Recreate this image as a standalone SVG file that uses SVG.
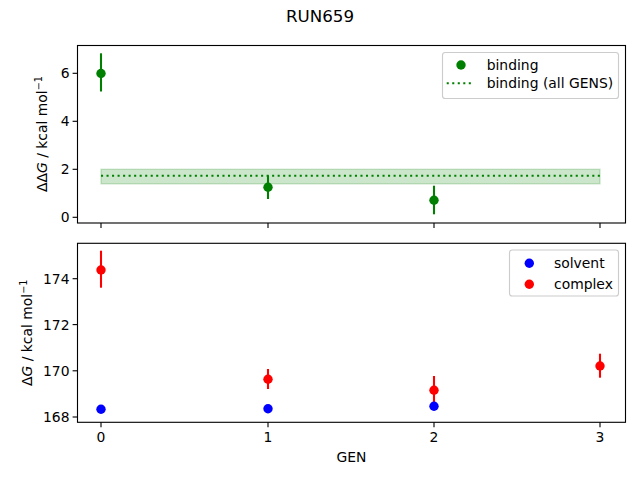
<svg xmlns="http://www.w3.org/2000/svg" width="640" height="480" viewBox="0 0 640 480">
<style>
text{font-family:"DejaVu Sans","Liberation Sans",sans-serif;font-size:13.9px;fill:#000}
.t{text-anchor:end}
.c{text-anchor:middle}
.ax{fill:none;stroke:#000;stroke-width:1.11}
.tk{stroke:#000;stroke-width:1.11}
.eg{stroke:#008000;stroke-width:2.08}
.er{stroke:#ff0000;stroke-width:2.08}
.lg{fill:#fff;fill-opacity:0.8;stroke:#ccc;stroke-width:1.11}
circle{r:4.7px}
</style>
<rect width="640" height="480" fill="#fff"/>
<text x="320" y="22" class="c" style="font-size:16.7px">RUN659</text>

<g id="top-axes">
<rect x="77.5" y="45.5" width="548" height="177.5" fill="#fff"/>
<rect x="101" y="169.3" width="499" height="14.5" fill="#008000" fill-opacity="0.2" stroke="#008000" stroke-opacity="0.2" stroke-width="1.39"/>
<line x1="101" y1="175.7" x2="600" y2="175.7" stroke="#008000" stroke-width="2.08" stroke-dasharray="2.08 3.44"/>
<line class="eg" x1="101" y1="53.3" x2="101" y2="91.5"/>
<line class="eg" x1="268" y1="175.3" x2="268" y2="199"/>
<line class="eg" x1="434" y1="185.7" x2="434" y2="214.3"/>
<circle cx="101" cy="73.5" r="4.7" fill="#008000"/>
<circle cx="268" cy="187.3" r="4.7" fill="#008000"/>
<circle cx="434" cy="200.3" r="4.7" fill="#008000"/>
<rect class="ax" x="77.5" y="45.5" width="548" height="177.5"/>
<g class="tk">
<line x1="72.6" y1="217.3" x2="77.5" y2="217.3"/>
<line x1="72.6" y1="169.3" x2="77.5" y2="169.3"/>
<line x1="72.6" y1="121.3" x2="77.5" y2="121.3"/>
<line x1="72.6" y1="73.3" x2="77.5" y2="73.3"/>
<line x1="101" y1="223" x2="101" y2="227.9"/>
<line x1="268" y1="223" x2="268" y2="227.9"/>
<line x1="434" y1="223" x2="434" y2="227.9"/>
<line x1="600" y1="223" x2="600" y2="227.9"/>
</g>
<text x="69.5" y="222.3" class="t">0</text>
<text x="69.5" y="174.3" class="t">2</text>
<text x="69.5" y="126.3" class="t">4</text>
<text x="69.5" y="78.3" class="t">6</text>
<text transform="translate(46.5,134) rotate(-90)" class="c">ΔΔ<tspan font-style="italic">G</tspan> / kcal mol<tspan dy="-5" style="font-size:9.7px">−1</tspan></text>
</g>

<g id="top-legend">
<rect class="lg" x="442.5" y="52.5" width="176" height="46" rx="2.8"/>
<circle cx="461" cy="65" r="4.7" fill="#008000"/>
<line x1="446.7" y1="83.3" x2="474.3" y2="83.3" stroke="#008000" stroke-width="2.08" stroke-dasharray="2.08 3.44"/>
<text x="486.7" y="70">binding</text>
<text x="486.7" y="88.3">binding (all GENS)</text>
</g>

<g id="bottom-axes">
<rect x="77.5" y="243.3" width="548" height="179" fill="#fff"/>
<line class="er" x1="101" y1="250.7" x2="101" y2="287.7"/>
<line class="er" x1="268" y1="369" x2="268" y2="389"/>
<line class="er" x1="434" y1="376" x2="434" y2="404"/>
<line class="er" x1="600" y1="353.7" x2="600" y2="377.7"/>
<circle cx="101" cy="270" r="4.7" fill="#ff0000"/>
<circle cx="268" cy="379.3" r="4.7" fill="#ff0000"/>
<circle cx="434" cy="390.3" r="4.7" fill="#ff0000"/>
<circle cx="600" cy="366" r="4.7" fill="#ff0000"/>
<circle cx="101" cy="409.3" r="4.7" fill="#0000ff"/>
<circle cx="268" cy="408.7" r="4.7" fill="#0000ff"/>
<circle cx="434" cy="406.3" r="4.7" fill="#0000ff"/>
<rect class="ax" x="77.5" y="243.3" width="548" height="179"/>
<g class="tk">
<line x1="72.6" y1="417" x2="77.5" y2="417"/>
<line x1="72.6" y1="370.8" x2="77.5" y2="370.8"/>
<line x1="72.6" y1="324.6" x2="77.5" y2="324.6"/>
<line x1="72.6" y1="278.7" x2="77.5" y2="278.7"/>
<line x1="101" y1="422.3" x2="101" y2="427.2"/>
<line x1="268" y1="422.3" x2="268" y2="427.2"/>
<line x1="434" y1="422.3" x2="434" y2="427.2"/>
<line x1="600" y1="422.3" x2="600" y2="427.2"/>
</g>
<text x="69.5" y="422" class="t">168</text>
<text x="69.5" y="375.8" class="t">170</text>
<text x="69.5" y="329.6" class="t">172</text>
<text x="69.5" y="283.7" class="t">174</text>
<text x="101" y="442" class="c">0</text>
<text x="268" y="442" class="c">1</text>
<text x="434" y="442" class="c">2</text>
<text x="600" y="442" class="c">3</text>
<text x="351.5" y="462.3" class="c">GEN</text>
<text transform="translate(31.5,332.8) rotate(-90)" class="c">Δ<tspan font-style="italic">G</tspan> / kcal mol<tspan dy="-5" style="font-size:9.7px">−1</tspan></text>
</g>

<g id="bottom-legend">
<rect class="lg" x="509.5" y="250" width="109" height="46" rx="2.8"/>
<circle cx="529.3" cy="263.3" r="4.7" fill="#0000ff"/>
<circle cx="529.3" cy="284.3" r="4.7" fill="#ff0000"/>
<text x="554" y="268.3">solvent</text>
<text x="554" y="289.3">complex</text>
</g>
</svg>
